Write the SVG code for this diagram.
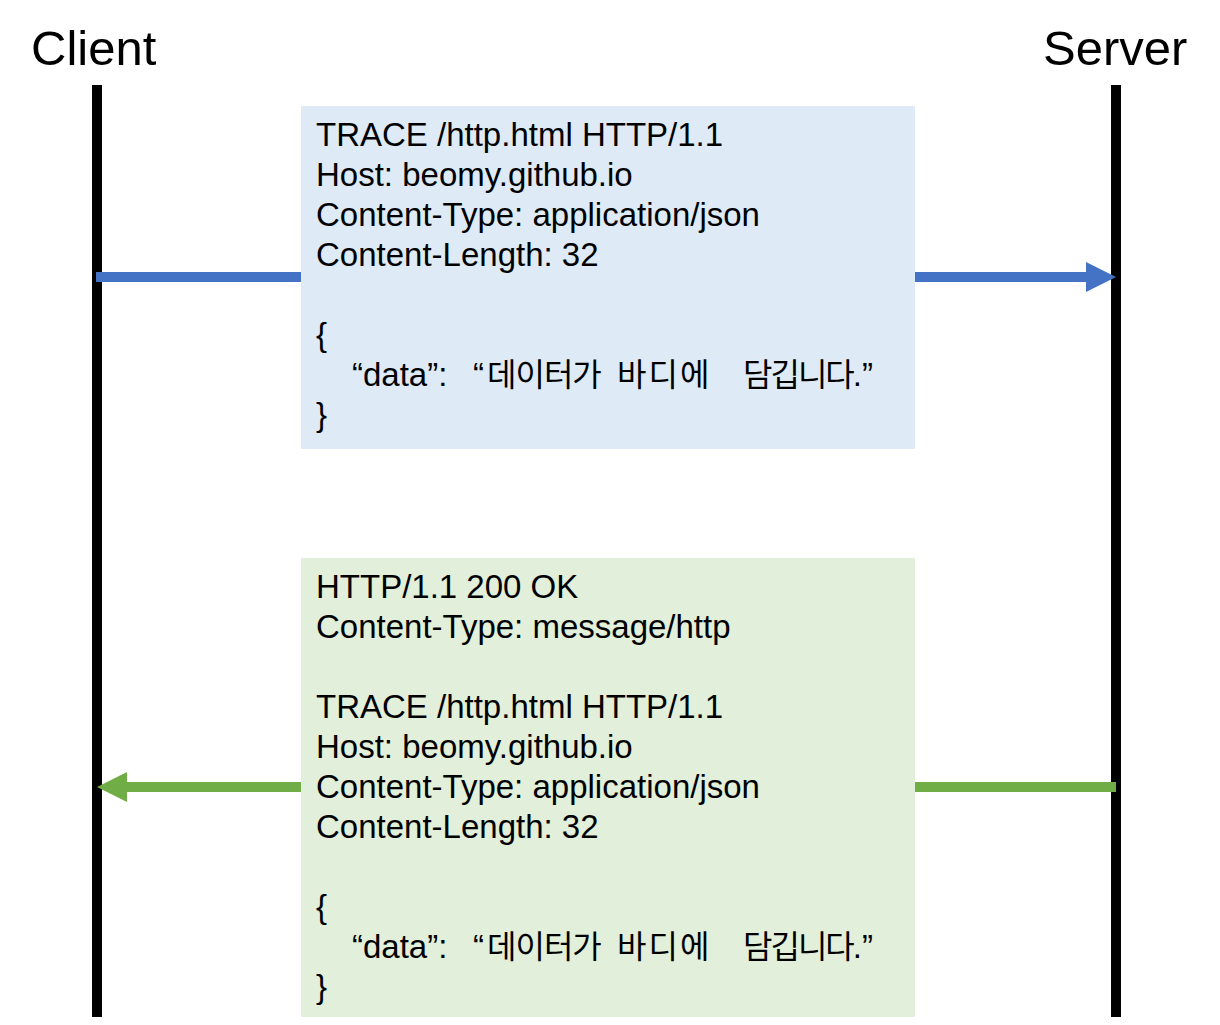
<svg xmlns="http://www.w3.org/2000/svg" width="1220" height="1025" viewBox="0 0 1220 1025">
<style>
  .title { font-family: "Liberation Sans", Arial, sans-serif; font-size: 49px; fill: #000; }
  .body { font-family: "Liberation Sans", Arial, "Noto Sans CJK KR", sans-serif; font-size: 33px; fill: #000; }
  .ko { font-family: "Noto Sans CJK KR", sans-serif; font-size: 32px; }
  .k1 { letter-spacing: -1px; }
  .k2 { letter-spacing: 2px; }
  .k3 { letter-spacing: -2px; }
  .life { fill: #000; }
  .req { fill: #DEEBF7; }
  .res { fill: #E2EFDA; }
  .conn { fill: none; stroke-width: 10; }
</style>
<defs>
  <marker id="ahBlue" viewBox="0 0 30 30" markerWidth="30" markerHeight="30" markerUnits="userSpaceOnUse" refX="0" refY="15" orient="auto">
    <path d="M0,0 L30,15 L0,30 Z" fill="#4472C4"/>
  </marker>
  <marker id="ahGreen" viewBox="0 0 30 30" markerWidth="30" markerHeight="30" markerUnits="userSpaceOnUse" refX="0" refY="15" orient="auto">
    <path d="M0,0 L30,15 L0,30 Z" fill="#70AD47"/>
  </marker>
</defs>
<rect width="1220" height="1025" fill="#fff"/>
<g id="client">
  <text class="title" x="31" y="65">Client</text>
  <rect class="life" x="92" y="85" width="10" height="932"/>
</g>
<g id="server">
  <text class="title" x="1043" y="65">Server</text>
  <rect class="life" x="1111" y="85" width="10" height="932"/>
</g>
<g id="connectors">
  <path class="conn" d="M96,277 L1086,277" stroke="#4472C4" marker-end="url(#ahBlue)"/>
  <path class="conn" d="M1116,787 L127,787" stroke="#70AD47" marker-end="url(#ahGreen)"/>
</g>
<g id="request">
  <rect class="req" x="301" y="106" width="614" height="343"/>
  <text class="body"><tspan x="316" y="146">TRACE /http.html HTTP/1.1</tspan><tspan x="316" y="186">Host: beomy.github.io</tspan><tspan x="316" y="226">Content-Type: application/json</tspan><tspan x="316" y="266">Content-Length: 32</tspan><tspan x="316" y="346">{</tspan><tspan x="352" y="386">“data”:</tspan><tspan x="473" y="386">“</tspan><tspan class="ko k1" x="487" y="386">데이터가</tspan><tspan class="ko k2" x="617" y="386">바디에</tspan><tspan class="ko k3" x="743" y="386">담깁니다</tspan><tspan>.”</tspan><tspan x="316" y="426">}</tspan></text>
</g>
<g id="response">
  <rect class="res" x="301" y="558" width="614" height="459"/>
  <text class="body"><tspan x="316" y="598">HTTP/1.1 200 OK</tspan><tspan x="316" y="638">Content-Type: message/http</tspan><tspan x="316" y="718">TRACE /http.html HTTP/1.1</tspan><tspan x="316" y="758">Host: beomy.github.io</tspan><tspan x="316" y="798">Content-Type: application/json</tspan><tspan x="316" y="838">Content-Length: 32</tspan><tspan x="316" y="918">{</tspan><tspan x="352" y="958">“data”:</tspan><tspan x="473" y="958">“</tspan><tspan class="ko k1" x="487" y="958">데이터가</tspan><tspan class="ko k2" x="617" y="958">바디에</tspan><tspan class="ko k3" x="743" y="958">담깁니다</tspan><tspan>.”</tspan><tspan x="316" y="998">}</tspan></text>
</g>
</svg>
